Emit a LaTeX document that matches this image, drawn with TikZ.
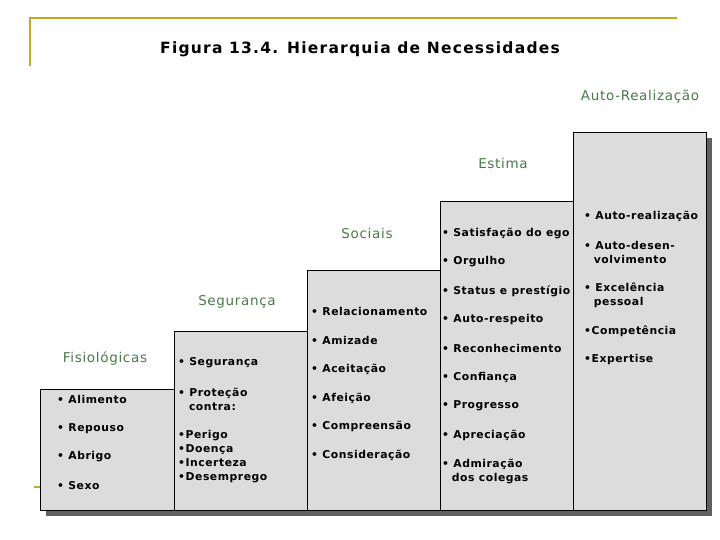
\documentclass[tikz,border=0pt]{standalone}
\usepackage{fontspec}
\setmainfont{DejaVu Sans}
\definecolor{gold}{HTML}{C8A820}
\definecolor{hdr}{HTML}{4A7A4A}
\definecolor{boxfill}{HTML}{DCDCDC}
\definecolor{shad}{HTML}{606060}
\begin{document}
\begin{tikzpicture}[x=1pt,y=-1pt,
  stepbox/.style={draw=black,fill=boxfill,line width=0.8pt},
  hd/.style={anchor=center,text=hdr,font=\fontsize{13.5}{16}\selectfont\addfontfeature{LetterSpace=5}},
  it/.style={anchor=west,inner sep=0pt,align=left,font=\bfseries\fontsize{10.8}{14}\selectfont\addfontfeature{LetterSpace=5}}]
\useasboundingbox (0,0) rectangle (720,540);
\draw[gold,line width=2pt] (30,66) -- (30,18) -- (677,18);
\draw[gold,line width=1.5pt] (34,487) -- (40,487);
\node[font=\bfseries\fontsize{15.5}{18}\selectfont\addfontfeature{LetterSpace=8}] (title) at (360,49) {Figura 13.4. Hierarquia de Necessidades};
% shadows
\fill[shad] (46,395) rectangle (180,516);
\fill[shad] (180,337) rectangle (313,516);
\fill[shad] (313,276) rectangle (446,516);
\fill[shad] (446,207) rectangle (579,516);
\fill[shad] (579,138) rectangle (712,516);
% boxes
\draw[stepbox] (40,389) rectangle (174,510);
\draw[stepbox] (174,331) rectangle (307,510);
\draw[stepbox] (307,270) rectangle (440,510);
\draw[stepbox] (440,201) rectangle (573,510);
\draw[stepbox] (573,132) rectangle (706,510);
% headings
\node[hd] (h1) at (105,359) {Fisiológicas};
\node[hd] (h2) at (237,302) {Segurança};
\node[hd] (h3) at (367,233) {Sociais};
\node[hd] (h4) at (503,163) {Estima};
\node[hd] (h5) at (640,97) {Auto-Realização};
% box 1
\node[it] (a1) at (57,399) {• Alimento};
\node[it] (a2) at (57,429) {• Repouso};
\node[it] (a3) at (57,457) {• Abrigo};
\node[it] (a4) at (57,486) {• Sexo};
% box 2
\node[it] (b1) at (178,363) {• Segurança};
\node[it] (b2) at (178,399) {• Proteção\\\hspace*{1.0em}contra:};
\node[it] (b3) at (178,457) {•Perigo\\•Doença\\•Incerteza\\•Desemprego};
% box 3
\node[it] (c1) at (311,311) {• Relacionamento};
\node[it] (c2) at (311,340) {• Amizade};
\node[it] (c3) at (311,369) {• Aceitação};
\node[it] (c4) at (311,398) {• Afeição};
\node[it] (c5) at (311,426) {• Compreensão};
\node[it] (c6) at (311,455) {• Consideração};
% box 4
\node[it] (d1) at (442,233) {• Satisfação do ego};
\node[it] (d2) at (442,262) {• Orgulho};
\node[it] (d3) at (442,291) {• Status e prestígio};
\node[it] (d4) at (442,320) {• Auto-respeito};
\node[it] (d5) at (442,348) {• Reconhecimento};
\node[it] (d6) at (442,377) {• Confiança};
\node[it] (d7) at (442,406) {• Progresso};
\node[it] (d8) at (442,435) {• Apreciação};
\node[it] (d9) at (442,471) {• Admiração\\\hspace*{0.9em}dos colegas};
% box 5
\node[it] (e1) at (584,216) {• Auto-realização};
\node[it] (e2) at (584,252) {• Auto-desen-\\\hspace*{0.9em}volvimento};
\node[it] (e3) at (584,295) {• Excelência\\\hspace*{0.9em}pessoal};
\node[it] (e4) at (584,331) {•Competência};
\node[it] (e5) at (584,360) {•Expertise};
\end{tikzpicture}
\end{document}
